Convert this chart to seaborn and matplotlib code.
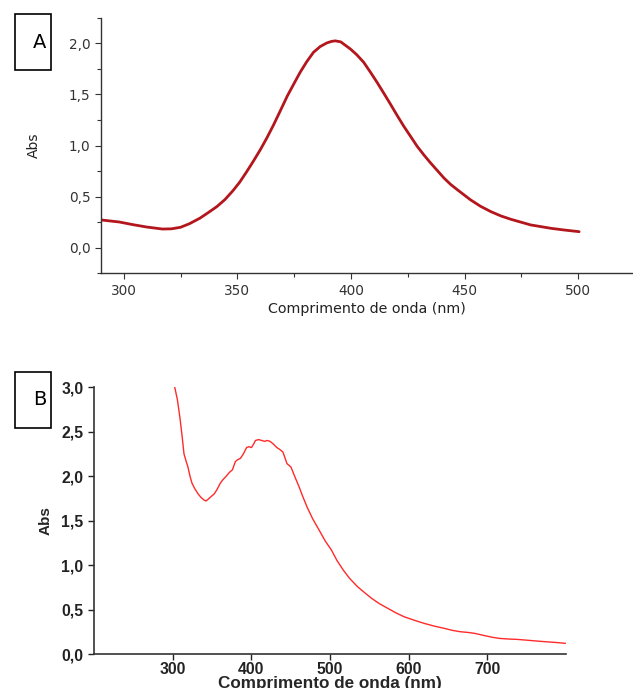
import numpy as np
import pandas as pd
import matplotlib
matplotlib.use("Agg")
import matplotlib.pyplot as plt
from matplotlib.patches import Rectangle
from matplotlib.ticker import MultipleLocator, FuncFormatter
import seaborn as sns

# Panel A: absorbance spectrum (smooth)
wl_a = [290, 298, 304, 310, 317, 321, 325, 329, 333.5, 337, 341, 344.5, 348, 351,
        354, 357, 360, 363, 366, 369, 372, 375, 377.6, 380.5, 383.5, 386.5, 389.4,
        391.5, 393.1, 395.5, 399.7, 402.5, 405.6, 408.5, 411.5, 414.5, 417.4,
        420.3, 423.2, 426.2, 429.1, 432, 435, 438, 440.9, 443.8, 446.8, 452.6,
        457, 461.5, 466, 470.3, 475, 479.1, 484, 488, 494, 500.4]
abs_a = [0.271, 0.251, 0.225, 0.202, 0.182, 0.184, 0.199, 0.235, 0.288, 0.34,
         0.402, 0.47, 0.556, 0.64, 0.74, 0.845, 0.955, 1.075, 1.205, 1.345, 1.486,
         1.61, 1.716, 1.82, 1.913, 1.97, 2.005, 2.02, 2.025, 2.015, 1.946, 1.89,
         1.815, 1.72, 1.618, 1.51, 1.404, 1.295, 1.19, 1.09, 0.993, 0.91, 0.83,
         0.755, 0.682, 0.62, 0.567, 0.468, 0.405, 0.353, 0.31, 0.278, 0.248,
         0.222, 0.204, 0.189, 0.172, 0.156]

# Panel B: absorbance spectrum (noisy)
wl_b = [302.6, 306, 309.2, 312, 314.4, 317, 319.5, 322, 324.6, 328, 332.3, 336,
        340, 342.5, 345.2, 349, 352.9, 356.5, 360.6, 364, 368.3, 372, 376, 379.6,
        382, 386.3, 390, 394, 397, 400.2, 403, 405.3, 409.4, 413, 417.1, 420,
        423.8, 428, 432.5, 436, 440.2, 443, 445.3, 448, 450.5, 455, 460.7, 465,
        471, 478, 486.4, 494, 501.8, 509, 517.2, 525, 535.1, 544, 553.1, 563,
        573.6, 584, 594.2, 607, 619.9, 632, 645.5, 656, 666.1, 675, 684.1, 695,
        707.2, 716, 727.7, 737, 748.3, 760, 774, 787, 799.6]
abs_b = [3.0, 2.86, 2.66, 2.45, 2.25, 2.17, 2.1, 2.0, 1.92, 1.86, 1.80, 1.76,
         1.73, 1.72, 1.74, 1.77, 1.80, 1.85, 1.92, 1.96, 2.0, 2.04, 2.07, 2.16,
         2.18, 2.20, 2.25, 2.32, 2.33, 2.32, 2.36, 2.40, 2.41, 2.40, 2.39, 2.40,
         2.39, 2.36, 2.32, 2.30, 2.27, 2.20, 2.14, 2.12, 2.10, 2.00, 1.88, 1.78,
         1.65, 1.52, 1.39, 1.27, 1.17, 1.05, 0.94, 0.85, 0.756, 0.69, 0.625,
         0.565, 0.513, 0.462, 0.419, 0.38, 0.344, 0.315, 0.288, 0.265, 0.25,
         0.243, 0.232, 0.21, 0.187, 0.175, 0.168, 0.165, 0.157, 0.148, 0.138,
         0.13, 0.12]

df_a = pd.DataFrame({"wl": wl_a, "abs": abs_a})
df_b = pd.DataFrame({"wl": wl_b, "abs": abs_b})

sns.set_style("ticks")
comma = FuncFormatter(lambda v, p: f"{v:.1f}".replace(".", ","))

fig = plt.figure(figsize=(6.33, 6.88), dpi=100)

# ---- panel A
ax_a = fig.add_axes([0.1596, 0.603, 0.84, 0.371])
sns.lineplot(data=df_a, x="wl", y="abs", ax=ax_a, color="#b3161c", linewidth=2.0)
ax_a.set_xlim(290, 524)
ax_a.set_ylim(-0.25, 2.25)
ax_a.xaxis.set_major_locator(MultipleLocator(50))
ax_a.xaxis.set_minor_locator(MultipleLocator(25))
ax_a.yaxis.set_major_locator(MultipleLocator(0.5))
ax_a.yaxis.set_minor_locator(MultipleLocator(0.25))
ax_a.yaxis.set_major_formatter(comma)
ax_a.tick_params(which="both", direction="out", colors="#333333", labelsize=9.8, width=0.8)
ax_a.tick_params(which="major", length=4)
ax_a.tick_params(which="minor", length=3)
for s in ["left", "bottom"]:
    ax_a.spines[s].set_color("#333333")
    ax_a.spines[s].set_linewidth(1.0)
sns.despine(ax=ax_a)
ax_a.set_xlabel("Comprimento de onda (nm)", fontsize=10.3, color="#222222", labelpad=3)
ax_a.set_ylabel("Abs", fontsize=10, color="#222222", labelpad=20)

# ---- panel B
ax_b = fig.add_axes([0.1485, 0.0494, 0.7455, 0.388])
sns.lineplot(data=df_b, x="wl", y="abs", ax=ax_b, color="#ff2a2a", linewidth=1.0)
ax_b.set_xlim(200, 800)
ax_b.set_ylim(0, 3.0)
ax_b.set_xticks([300, 400, 500, 600, 700])
ax_b.yaxis.set_major_locator(MultipleLocator(0.5))
ax_b.yaxis.set_major_formatter(comma)
ax_b.tick_params(direction="out", length=4, width=1.0, colors="#222222")
ax_b.tick_params(axis="x", pad=2)
for lab in ax_b.get_xticklabels() + ax_b.get_yticklabels():
    lab.set_fontfamily("Liberation Sans")
    lab.set_fontweight("bold")
    lab.set_fontsize(11.3)
for s in ["left", "bottom"]:
    ax_b.spines[s].set_color("#333333")
    ax_b.spines[s].set_linewidth(1.2)
sns.despine(ax=ax_b)
ax_b.set_xlabel("Comprimento de onda (nm)", fontsize=12.3, fontweight="bold",
                family="Liberation Sans", labelpad=-1)
ax_b.set_ylabel("Abs", fontsize=11, fontweight="bold", family="Liberation Sans", labelpad=6)

# ---- panel letters in boxes
for label, y0 in [("A", 0.898), ("B", 0.378)]:
    fig.patches.append(Rectangle((0.0237, y0), 0.0569, 0.0814, transform=fig.transFigure,
                                 fill=False, edgecolor="black", linewidth=1.2))
    fig.text(0.063, y0 + 0.0407, label, fontsize=14, ha="center", va="center",
             family="Liberation Sans Narrow", color="black")

fig.savefig("out.png", dpi=100)
